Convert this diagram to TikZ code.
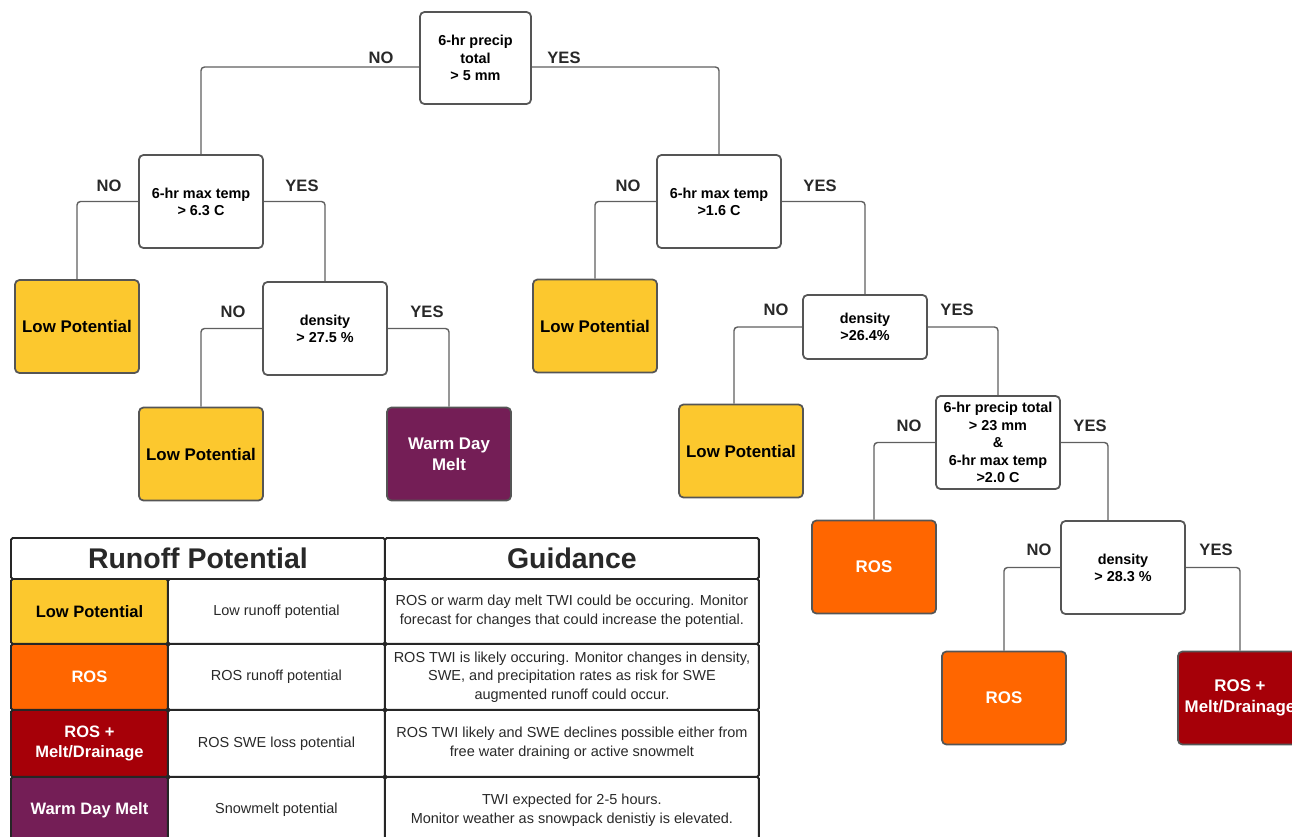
\documentclass[tikz,border=0pt]{standalone}
\usepackage{fontspec}
\setmainfont{Liberation Sans}
\usetikzlibrary{calc}
\definecolor{LowClr}{RGB}{252,200,46}
\definecolor{RosClr}{RGB}{255,102,0}
\definecolor{MeltClr}{RGB}{166,0,8}
\definecolor{WarmClr}{RGB}{116,30,86}
\definecolor{BoxClr}{RGB}{85,85,85}
\definecolor{LineClr}{RGB}{95,95,95}
\definecolor{TxtClr}{RGB}{40,40,40}

\begin{document}
\begin{tikzpicture}[x=0.02cm,y=-0.02cm,
  test/.style={draw=BoxClr,line width=1pt,rounded corners=2.5pt,fill=white,align=center,
    inner sep=0pt,minimum width=2.48cm,minimum height=1.86cm,font=\bfseries\fontsize{8.2}{9.8}\selectfont},
  leaf/.style={test,font=\bfseries\fontsize{9.6}{12}\selectfont},
  branch/.style={draw=LineClr,line width=0.8pt,rounded corners=2pt},
  answer/.style={font=\bfseries\fontsize{9.4}{11}\selectfont,text=TxtClr},
  cell/.style={draw=black!85,line width=1.1pt,rounded corners=1pt,anchor=north west,inner sep=0pt,
    align=center,font=\fontsize{8.25}{10.6}\selectfont,text=TxtClr},
  key/.style={cell,minimum width=3.14cm,font=\bfseries\fontsize{9.4}{11.5}\selectfont}]
\useasboundingbox (0,0) rectangle (1292,836);

% decision tree
\node[test,minimum width=2.22cm,minimum height=1.84cm] (PrecipA) at (475.5,58) {6-hr precip\\total\\> 5 mm};
\node[test] (TmaxA) at (201,201.5) {6-hr max temp\\> 6.3 C};
\node[test] (TmaxB) at (719,201.5) {6-hr max temp\\>1.6 C};
\node[test] (DensA) at (325,328.5) {density\\> 27.5 \%};
\node[test,minimum height=1.28cm] (DensB) at (865,327) {density\\>26.4\%};
\node[test,font=\bfseries\fontsize{8.2}{10}\selectfont] (Combo) at (998,442.5) {6-hr precip total\\> 23 mm\\\&\\6-hr max temp\\>2.0 C};
\node[test] (DensC) at (1123,567.5) {density\\> 28.3 \%};

\node[leaf,fill=LowClr] (LowA) at (77,326.5) {Low Potential};
\node[leaf,fill=LowClr] (LowB) at (201,454) {Low Potential};
\node[leaf,fill=WarmClr,text=white] (WarmA) at (449,454) {Warm Day\\Melt};
\node[leaf,fill=LowClr] (LowC) at (595,326) {Low Potential};
\node[leaf,fill=LowClr] (LowD) at (741,451) {Low Potential};
\node[leaf,fill=RosClr,text=white] (RosA) at (874,567) {ROS};
\node[leaf,fill=RosClr,text=white] (RosB) at (1004,698) {ROS};
\node[leaf,fill=MeltClr,text=white] (MeltA) at (1240,698) {ROS +\\Melt/Drainage};

\draw[branch] ($(PrecipA.west)+(0,9)$) -| (TmaxA.north);
\draw[branch] ($(PrecipA.east)+(0,9)$) -| (TmaxB.north);
\draw[branch] (TmaxA.west) -| (LowA.north);
\draw[branch] (TmaxA.east) -| (DensA.north);
\draw[branch] (DensA.west) -| (LowB.north);
\draw[branch] (DensA.east) -| (WarmA.north);
\draw[branch] (TmaxB.west) -| (LowC.north);
\draw[branch] (TmaxB.east) -| (DensB.north);
\draw[branch] (DensB.west) -| ($(LowD.north)+(-7,0)$);
\draw[branch] (DensB.east) -| (Combo.north);
\draw[branch] (Combo.west) -| (RosA.north);
\draw[branch] (Combo.east) -| ($(DensC.north)+(-15,0)$);
\draw[branch] (DensC.west) -| (RosB.north);
\draw[branch] (DensC.east) -| (MeltA.north);

\node[answer] (noA) at (381,58) {NO};
\node[answer] (yesA) at (564,58) {YES};
\node[answer] (noB) at (109,186) {NO};
\node[answer] (yesB) at (302,186) {YES};
\node[answer] (noC) at (233,312) {NO};
\node[answer] (yesC) at (427,312) {YES};
\node[answer] (noD) at (628,186) {NO};
\node[answer] (yesD) at (820,186) {YES};
\node[answer] (noE) at (776,310) {NO};
\node[answer] (yesE) at (957,310) {YES};
\node[answer] (noF) at (909,426) {NO};
\node[answer] (yesF) at (1090,426) {YES};
\node[answer] (noG) at (1039,550) {NO};
\node[answer] (yesG) at (1216,550) {YES};

% legend table
\node[cell,minimum width=7.48cm,minimum height=0.82cm,font=\bfseries\fontsize{16.2}{18}\selectfont] (HeadPot) at (10,537) {Runoff Potential};
\node[cell,minimum width=7.48cm,minimum height=0.82cm,font=\bfseries\fontsize{16.2}{18}\selectfont] (HeadGuide) at (384,537) {Guidance};

\node[key,fill=LowClr,minimum height=1.30cm,text=black] (KeyLow) at (10,578) {Low Potential};
\node[cell,minimum width=4.34cm,minimum height=1.30cm] (PotLow) at (167,578) {Low runoff potential};
\node[cell,minimum width=7.48cm,minimum height=1.30cm] (GuideLow) at (384,578)
  {ROS or warm day melt TWI could be occuring. Monitor\\forecast for changes that could increase the potential.};

\node[key,fill=RosClr,minimum height=1.32cm,text=white] (KeyRos) at (10,643) {ROS};
\node[cell,minimum width=4.34cm,minimum height=1.32cm] (PotRos) at (167,643) {ROS runoff potential};
\node[cell,minimum width=7.48cm,minimum height=1.32cm] (GuideRos) at (384,643)
  {ROS TWI is likely occuring. Monitor changes in density,\\SWE, and precipitation rates as risk for SWE\\augmented runoff could occur.};

\node[key,fill=MeltClr,minimum height=1.34cm,text=white] (KeyMelt) at (10,709) {ROS +\\Melt/Drainage};
\node[cell,minimum width=4.34cm,minimum height=1.34cm] (PotMelt) at (167,709) {ROS SWE loss potential};
\node[cell,minimum width=7.48cm,minimum height=1.34cm] (GuideMelt) at (384,709)
  {ROS TWI likely and SWE declines possible either from\\free water draining or active snowmelt};

\node[key,fill=WarmClr,minimum height=1.32cm,text=white] (KeyWarm) at (10,776) {Warm Day Melt};
\node[cell,minimum width=4.34cm,minimum height=1.32cm] (PotWarm) at (167,776) {Snowmelt potential};
\node[cell,minimum width=7.48cm,minimum height=1.32cm] (GuideWarm) at (384,776)
  {TWI expected for 2-5 hours.\\Monitor weather as snowpack denistiy is elevated.};

\end{tikzpicture}
\end{document}
